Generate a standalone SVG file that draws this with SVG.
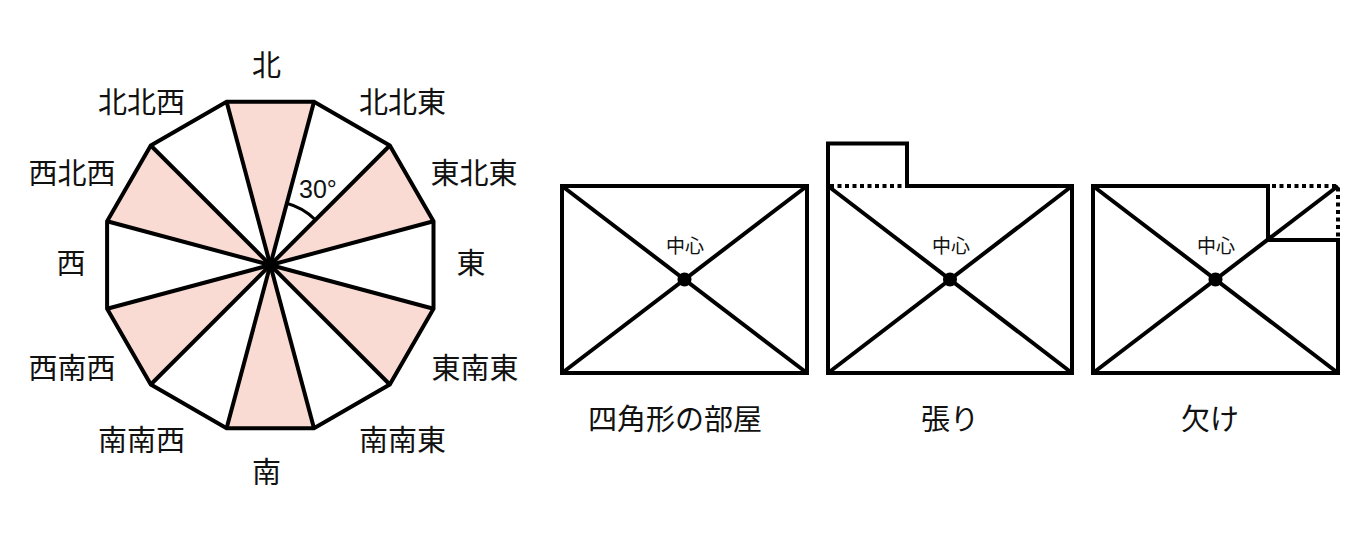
<svg xmlns="http://www.w3.org/2000/svg" width="1364" height="554" viewBox="0 0 1364 554">
<style>
.bg{fill:#ffffff}
.pink{fill:#f9dbd3;stroke:none}
.ln{stroke:#000;stroke-width:4;fill:none;stroke-linejoin:miter;stroke-linecap:butt}
.arc{stroke:#000;stroke-width:3;fill:none}
.dot{stroke:#000;stroke-width:4;fill:none;stroke-dasharray:4 3.5}
.lbl{font-family:"Noto Sans CJK JP","Noto Sans CJK SC",sans-serif;font-size:29px;fill:#111;text-anchor:middle}
.ctr{font-family:"Noto Sans CJK JP","Noto Sans CJK SC",sans-serif;font-size:19px;fill:#111;text-anchor:middle}
.deg{font-family:"Liberation Sans",Arial,sans-serif;font-size:25px;fill:#111}
</style>
<rect class="bg" x="0" y="0" width="1364" height="554"/>

<g id="compass">
  <polygon class="pink" points="270,265 314,101.8 226.6,101.8"/>
  <polygon class="pink" points="270,265 433.5,221.3 389.8,145.5"/>
  <polygon class="pink" points="270,265 389.8,384.5 433.5,308.7"/>
  <polygon class="pink" points="270,265 226.6,428.2 314,428.2"/>
  <polygon class="pink" points="270,265 107.1,308.7 150.8,384.5"/>
  <polygon class="pink" points="270,265 150.8,145.5 107.1,221.3"/>
  <g class="ln">
    <line x1="433.5" y1="221.3" x2="107.1" y2="308.7"/>
    <line x1="389.8" y1="145.5" x2="150.8" y2="384.5"/>
    <line x1="314" y1="101.8" x2="226.6" y2="428.2"/>
    <line x1="226.6" y1="101.8" x2="314" y2="428.2"/>
    <line x1="150.8" y1="145.5" x2="389.8" y2="384.5"/>
    <line x1="107.1" y1="221.3" x2="433.5" y2="308.7"/>
    <polygon points="433.5,221.3 389.8,145.5 314,101.8 226.6,101.8 150.8,145.5 107.1,221.3 107.1,308.7 150.8,384.5 226.6,428.2 314,428.2 389.8,384.5 433.5,308.7"/>
  </g>
  <path class="arc" d="M286.6,203.2 A64,64 0 0 1 315.3,219.7"/>
  <text class="deg" x="299" y="198">30°</text>
  <text class="lbl" x="266.5" y="76">北</text>
  <text class="lbl" x="141.5" y="113">北北西</text>
  <text class="lbl" x="402.5" y="113">北北東</text>
  <text class="lbl" x="72" y="184">西北西</text>
  <text class="lbl" x="474" y="184">東北東</text>
  <text class="lbl" x="71" y="274">西</text>
  <text class="lbl" x="471" y="274">東</text>
  <text class="lbl" x="72" y="379">西南西</text>
  <text class="lbl" x="475" y="379">東南東</text>
  <text class="lbl" x="141.5" y="451">南南西</text>
  <text class="lbl" x="402.5" y="451">南南東</text>
  <text class="lbl" x="266.5" y="483">南</text>
</g>

<g id="room-square">
  <rect class="ln" x="562" y="186" width="245" height="187"/>
  <line class="ln" x1="562" y1="186" x2="807" y2="373"/>
  <line class="ln" x1="562" y1="373" x2="807" y2="186"/>
  <circle cx="684.5" cy="279.5" r="7" fill="#000"/>
  <text class="ctr" x="685" y="252.5">中心</text>
  <text class="lbl" x="675" y="430">四角形の部屋</text>
</g>

<g id="room-hari">
  <path class="ln" d="M907,186 H1072 V373 H828 V143.5 H907 Z"/>
  <line class="dot" x1="830" y1="186" x2="905" y2="186"/>
  <line class="ln" x1="828" y1="186" x2="1072" y2="373"/>
  <line class="ln" x1="828" y1="373" x2="1072" y2="186"/>
  <circle cx="950" cy="279.5" r="7" fill="#000"/>
  <text class="ctr" x="951" y="252.5">中心</text>
  <text class="lbl" x="950" y="430">張り</text>
</g>

<g id="room-kake">
  <path class="ln" d="M1093,186 H1268 V240 H1338 V373 H1093 Z"/>
  <path class="dot" d="M1272,186 H1338 V238"/>
  <line class="ln" x1="1093" y1="186" x2="1338" y2="373"/>
  <line class="ln" x1="1093" y1="373" x2="1338" y2="186"/>
  <circle cx="1215.5" cy="279.5" r="7" fill="#000"/>
  <text class="ctr" x="1216" y="252.5">中心</text>
  <text class="lbl" x="1210" y="430">欠け</text>
</g>
</svg>
